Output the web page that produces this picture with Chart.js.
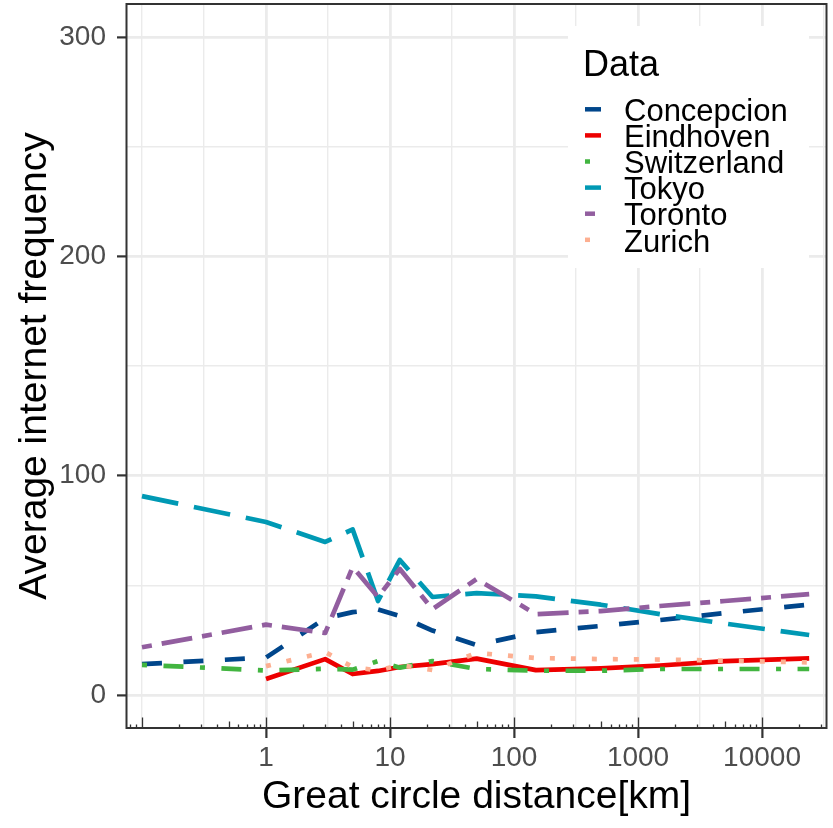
<!DOCTYPE html>
<html>
<head>
<meta charset="utf-8">
<script src="https://cdn.jsdelivr.net/npm/chart.js@4.4.0/dist/chart.umd.min.js"></script>
<style>
  html, body { margin: 0; padding: 0; background: #fff; }
  canvas { display: block; }
</style>
</head>
<body>
<canvas id="graficoDistancia" width="833" height="828"></canvas>
<script>
// distancia (km) de cada ponto
const distances = [0.1, 1, 3, 5, 8, 12, 22, 50, 150, 500, 1500, 5000, 24000];

const concepcion  = [14.1, 17.1, 35.0, 37.8, 39.0, 36.0, 29.4, 22.8, 28.7, 31.5, 34.2, 37.4, 41.2];
const eindhoven   = [null, 7.3, 16.4, 9.6, 11.0, 12.8, 14.1, 16.6, 11.4, 12.2, 13.5, 15.5, 16.7];
const switzerland = [13.8, 11.2, 12.0, 11.6, 15.5, 12.5, 15.5, 11.9, 11.1, 11.1, 11.9, 11.9, 11.9];
const tokyo       = [90.7, 78.9, 69.8, 75.5, 42.9, 61.6, 44.7, 46.5, 45.0, 41.2, 36.9, 32.6, 27.4];
const toronto     = [21.8, 32.1, 28.3, 58.4, 44.7, 57.5, 39.2, 52.9, 36.9, 38.3, 40.6, 42.9, 46.0];
const zurich      = [null, 13.2, 19.6, 12.8, 11.2, 13.7, 11.4, 19.2, 16.9, 16.4, 16.2, 15.7, 14.9];

const seriesNames  = ['Concepcion', 'Eindhoven', 'Switzerland', 'Tokyo', 'Toronto', 'Zurich'];
const seriesValues = [concepcion, eindhoven, switzerland, tokyo, toronto, zurich];
const seriesColors = ['#00468B', '#ED0000', '#42B540', '#0099B4', '#925E9F', '#FDAF91'];
const seriesDashes = [[20, 21.5], [], [5, 16.5, 20, 16.5], [37, 16], [10, 10, 31, 10], [5, 16]];

const yTickValues  = [0, 100, 200, 300];
const yGridValues  = [0, 50, 100, 150, 200, 250, 300];
const xTickValues  = [1, 10, 100, 1000, 10000];
const xTickLabels  = ['1', '10', '100', '1000', '10000'];
const xGridValues  = [0.1, 0.3162, 1, 3.162, 10, 31.62, 100, 316.2, 1000, 3162, 10000, 31623];

const fonte = 'Liberation Sans, Arial, sans-serif';
const escuro = '#333333';

const panelPlugin = {
  id: 'panel',
  afterDatasetsDraw(chart) {
    const { ctx, chartArea: a, scales: { x } } = chart;
    ctx.save();
    // log ticks na base
    ctx.strokeStyle = escuro;
    ctx.lineWidth = 1.3;
    ctx.beginPath();
    for (let k = -2; k <= 4; k++) {
      for (let m = 1; m <= 9; m++) {
        const v = m * Math.pow(10, k);
        if (v < x.min || v > x.max) continue;
        const px = Math.round(x.getPixelForValue(v)) + 0.5;
        const len = m === 1 ? 10.5 : (m === 5 ? 6.5 : 3.5);
        ctx.moveTo(px, a.bottom);
        ctx.lineTo(px, a.bottom - len);
      }
    }
    ctx.stroke();
    // borda do painel
    ctx.lineWidth = 2;
    ctx.strokeRect(a.left, a.top, a.right - a.left, a.bottom - a.top);

    // legenda
    ctx.fillStyle = '#ffffff';
    ctx.fillRect(568, 26, 241, 242);
    ctx.fillStyle = '#000000';
    ctx.textBaseline = 'alphabetic';
    ctx.textAlign = 'left';
    ctx.font = '36px ' + fonte;
    ctx.fillText('Data', 583, 76);
    ctx.font = '31px ' + fonte;
    chart.data.datasets.forEach((ds, i) => {
      const base = 121 + 26.1 * i;
      const cy = base - 11.7;
      ctx.save();
      ctx.strokeStyle = ds.borderColor;
      ctx.lineWidth = 4.5;
      ctx.lineCap = 'butt';
      ctx.setLineDash(ds.borderDash);
      ctx.beginPath();
      ctx.moveTo(585, cy);
      ctx.lineTo(601, cy);
      ctx.stroke();
      ctx.restore();
      ctx.fillText(ds.label, 624, base);
    });
    ctx.restore();
  }
};

const ctxDist = document.getElementById('graficoDistancia').getContext('2d');
new Chart(ctxDist, {
  type: 'line',
  data: {
    datasets: seriesNames.map((nome, i) => ({
      label: nome,
      data: distances.map((d, j) => ({ x: d, y: seriesValues[i][j] })),
      borderColor: seriesColors[i],
      backgroundColor: seriesColors[i],
      borderDash: seriesDashes[i],
      borderWidth: 4.7,
      borderJoinStyle: 'round',
      pointRadius: 0,
      tension: 0,
      fill: false,
      order: seriesNames.length - i
    }))
  },
  options: {
    responsive: false,
    animation: false,
    devicePixelRatio: 1,
    layout: { padding: { top: 4, right: 6.5, left: 0, bottom: 0 } },
    plugins: { legend: { display: false }, tooltip: { enabled: false } },
    scales: {
      x: {
        type: 'logarithmic',
        min: 0.075,
        max: 33100,
        afterBuildTicks: s => { s.ticks = xGridValues.map(v => ({ value: v })); },
        afterFit: s => { s.height = 100; s.paddingLeft = 0; s.paddingRight = 0; },
        border: { display: false },
        grid: {
          color: '#EBEBEB',
          lineWidth: c => xTickValues.includes(c.tick && c.tick.value) ? 2.8 : 1.4,
          tickColor: c => xTickValues.includes(c.tick && c.tick.value) ? escuro : 'rgba(0,0,0,0)',
          tickWidth: 2.2,
          tickLength: 10
        },
        ticks: {
          autoSkip: false,
          maxRotation: 0,
          padding: 3,
          color: '#4D4D4D',
          font: { size: 28, family: fonte },
          callback: v => {
            const i = xTickValues.indexOf(v);
            return i >= 0 ? xTickLabels[i] : '';
          }
        },
        title: {
          display: true,
          text: 'Great circle distance[km]',
          color: '#000000',
          font: { size: 39, family: fonte },
          padding: { top: 0, bottom: 7 }
        }
      },
      y: {
        type: 'linear',
        min: -15,
        max: 315,
        afterBuildTicks: s => { s.ticks = yGridValues.map(v => ({ value: v })); },
        afterFit: s => { s.width = 126.5; s.paddingTop = 0; s.paddingBottom = 0; },
        border: { display: false },
        grid: {
          color: '#EBEBEB',
          lineWidth: c => yTickValues.includes(c.tick && c.tick.value) ? 2.8 : 1.4,
          tickColor: c => yTickValues.includes(c.tick && c.tick.value) ? escuro : 'rgba(0,0,0,0)',
          tickWidth: 2.2,
          tickLength: 9.5
        },
        ticks: {
          padding: 11,
          color: '#4D4D4D',
          font: { size: 28, family: fonte },
          callback: v => yTickValues.includes(v) ? String(v) : ''
        },
        title: {
          display: true,
          text: 'Average internet frequency',
          color: '#000000',
          font: { size: 39, family: fonte },
          padding: { top: 12, bottom: 0 }
        }
      }
    }
  },
  plugins: [panelPlugin]
});
</script>
</body>
</html>
